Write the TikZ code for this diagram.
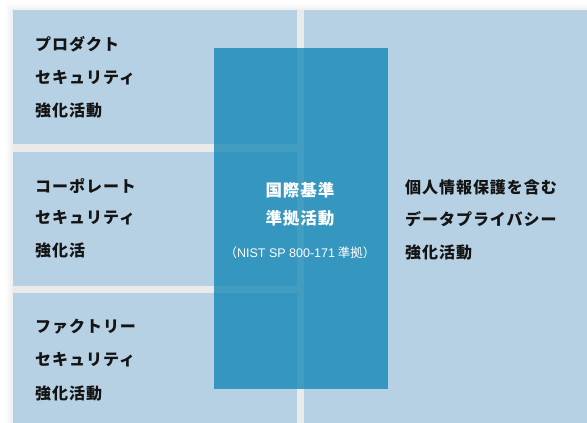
\documentclass[tikz,border=0pt]{standalone}
\usepackage{fontspec}
\newfontfamily\jp{Noto Sans CJK JP}[LetterSpace=6]
\newfontfamily\jpr{Noto Sans CJK JP}
\newfontfamily\lat{Liberation Sans}
\definecolor{boxblue}{RGB}{183,209,228}
\definecolor{deepblue}{RGB}{10,132,180}
\definecolor{gapgray}{RGB}{234,234,234}
\definecolor{txt}{RGB}{20,20,20}
\tikzset{
  panel/.style={fill=boxblue, draw=none},
  halo/.style={fill=black, fill opacity=0.015, draw=none, rounded corners=3pt},
  lbl/.style={anchor=west, inner sep=0pt, text=txt, font=\jp\bfseries\fontsize{16}{18}\selectfont},
  clbl/.style={anchor=center, inner sep=0pt, text=white, font=\jp\bfseries\fontsize{16.5}{18}\selectfont},
  slbl/.style={anchor=center, inner sep=0pt, text=white, font=\jpr\fontsize{12.5}{14}\selectfont},
}
\begin{document}
\begin{tikzpicture}[x=1pt,y=-1pt]
\useasboundingbox (0,0) rectangle (587,423);
\fill[white] (0,0) rectangle (587,423);
% soft halo
\path[halo] (6,4) rectangle (594,430);
\path[halo] (8,6) rectangle (594,430);
\path[halo] (10,8) rectangle (594,430);
\path[halo] (11.5,9) rectangle (594,430);
% gaps
\fill[gapgray] (13,144) rectangle (304,152);
\fill[gapgray] (13,286) rectangle (304,293);
\fill[gapgray] (297,10) rectangle (304,423);
% panels
\path[panel] (13,10) rectangle (297,144);
\path[panel] (13,152) rectangle (297,286);
\path[panel] (13,293) rectangle (297,423);
\path[panel] (304,10) rectangle (587,423);
% central translucent box
\path[fill=deepblue, fill opacity=0.75] (214,48) rectangle (388,389);
% left texts
\node[lbl] (a1) at (35,44) {プロダクト};
\node[lbl] (a2) at (35,78) {セキュリティ};
\node[lbl] (a3) at (35,110) {強化活動};
\node[lbl] (b1) at (35,186) {コーポレート};
\node[lbl] (b2) at (35,218) {セキュリティ};
\node[lbl] (b3) at (35,250) {強化活};
\node[lbl] (c1) at (35,327) {ファクトリー};
\node[lbl] (c2) at (35,360) {セキュリティ};
\node[lbl] (c3) at (35,393) {強化活動};
% right texts
\node[lbl] (d1) at (405,187) {個人情報保護を含む};
\node[lbl] (d2) at (405,219) {データプライバシー};
\node[lbl] (d3) at (405,252) {強化活動};
% center texts
\node[clbl] (e1) at (300,190) {国際基準};
\node[clbl] (e2) at (300,218) {準拠活動};
\node[slbl] (e3) at (300,253) {（{\lat NIST SP 800-171} 準拠）};
\end{tikzpicture}
\end{document}
